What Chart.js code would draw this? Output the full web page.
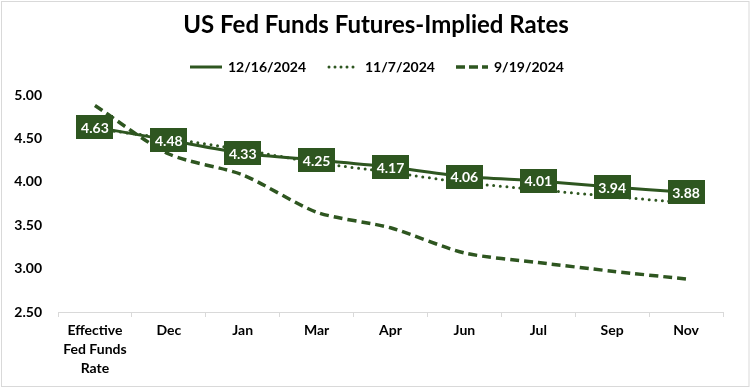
<!DOCTYPE html>
<html>
<head>
<meta charset="utf-8">
<script src="https://cdn.jsdelivr.net/npm/chart.js@4.4.1/dist/chart.umd.min.js"></script>
<style>
html,body{margin:0;padding:0;background:#fff;}
#wrap{width:751px;height:389px;position:relative;}
</style>
</head>
<body>
<div id="wrap"><canvas id="c" width="751" height="389"></canvas></div>
<script>
const categories = [['Effective','Fed Funds','Rate'],'Dec','Jan','Mar','Apr','Jun','Jul','Sep','Nov'];
const series1Name = '12/16/2024';
const series1 = [4.63, 4.48, 4.33, 4.25, 4.17, 4.06, 4.01, 3.94, 3.88];
const series2Name = '11/7/2024';
const series2 = [4.61, 4.50, 4.37, 4.22, 4.11, 3.99, 3.91, 3.83, 3.76];
const series3Name = '9/19/2024';
const series3 = [4.88, 4.32, 4.08, 3.65, 3.47, 3.18, 3.07, 2.97, 2.88];
const yTicks = [2.5, 3.0, 3.5, 4.0, 4.5, 5.0];
const titleText = 'US Fed Funds Futures-Implied Rates';

const GREEN = '#2E5620';
const FONT = 'Lato, "Open Sans", sans-serif';

const decor = {
  id: 'decor',
  afterDraw(chart) {
    const ctx = chart.ctx;
    ctx.save();
    // border
    ctx.strokeStyle = '#d9d9d9';
    ctx.lineWidth = 1;
    ctx.strokeRect(1.5, 1.5, 747.5, 385);
    // title
    ctx.fillStyle = '#000';
    ctx.font = 'bold 24px ' + FONT;
    ctx.textAlign = 'center';
    ctx.textBaseline = 'middle';
    ctx.fillText(titleText, 376, 25);
    // legend
    const items = [
      {x: 190, dash: [], cap: 'butt', w: 3, text: series1Name},
      {x: 327, dash: [0, 6], cap: 'round', w: 3, text: series2Name},
      {x: 456, dash: [9, 4], cap: 'butt', w: 3.5, text: series3Name}
    ];
    ctx.font = 'bold 14px ' + FONT;
    ctx.textAlign = 'left';
    items.forEach(it => {
      ctx.beginPath();
      ctx.strokeStyle = GREEN;
      ctx.lineWidth = it.w;
      ctx.lineCap = it.cap;
      ctx.setLineDash(it.dash);
      ctx.moveTo(it.x + (it.cap==='round'?2:0), 67);
      ctx.lineTo(it.x + 32, 67);
      ctx.stroke();
      ctx.setLineDash([]);
      ctx.fillStyle = '#000';
      ctx.fillText(it.text, it.x + 38, 67);
    });
    // data labels for series 1
    const meta = chart.getDatasetMeta(0);
    ctx.font = 'bold 14px ' + FONT;
    ctx.textAlign = 'center';
    meta.data.forEach((pt, i) => {
      const txt = series1[i].toFixed(2);
      const w = 37, h = 24;
      ctx.fillStyle = GREEN;
      ctx.fillRect(Math.round(pt.x - w/2), Math.round(pt.y - h/2), w, h);
      ctx.fillStyle = '#fff';
      ctx.fillText(txt, pt.x, pt.y + 1);
    });
    ctx.restore();
  }
};

new Chart(document.getElementById('c'), {
  type: 'line',
  data: {
    labels: categories,
    datasets: [
      {label: series1Name, data: series1, borderColor: GREEN, borderWidth: 3, pointRadius: 0, tension: 0.25, order: 1},
      {label: series2Name, data: series2, borderColor: GREEN, borderWidth: 3, borderDash: [0, 6.5], borderCapStyle: 'round', pointRadius: 0, tension: 0.25, order: 2},
      {label: series3Name, data: series3, borderColor: GREEN, borderWidth: 3.5, borderDash: [9, 5], pointRadius: 0, tension: 0.25, order: 3}
    ]
  },
  options: {
    responsive: false,
    animation: false,
    layout: {padding: {top: 95, right: 28, left: 0, bottom: 0}},
    plugins: {legend: {display: false}, title: {display: false}, tooltip: {enabled: false}},
    scales: {
      x: {
        offset: true,
        grid: {display: true, drawOnChartArea: false, drawTicks: true, tickLength: 5, color: '#d9d9d9', offset: true},
        border: {display: true, color: '#d9d9d9', width: 1},
        ticks: {color: '#000', font: {family: FONT, weight: 'bold', size: 14, lineHeight: 1.36}, padding: 4, maxRotation: 0, autoSkip: false},
        afterFit(s) { s.height = 389 - 312; }
      },
      y: {
        min: 2.5, max: 5.0,
        afterBuildTicks(s) { s.ticks = yTicks.map(v => ({value: v})); },
        grid: {display: false, drawTicks: false},
        border: {display: false},
        ticks: {color: '#000', font: {family: FONT, weight: 'bold', size: 14}, padding: 16, callback: v => Number(v).toFixed(2)},
        afterFit(s) { s.width = 58; }
      }
    }
  },
  plugins: [decor]
});
</script>
</body>
</html>
